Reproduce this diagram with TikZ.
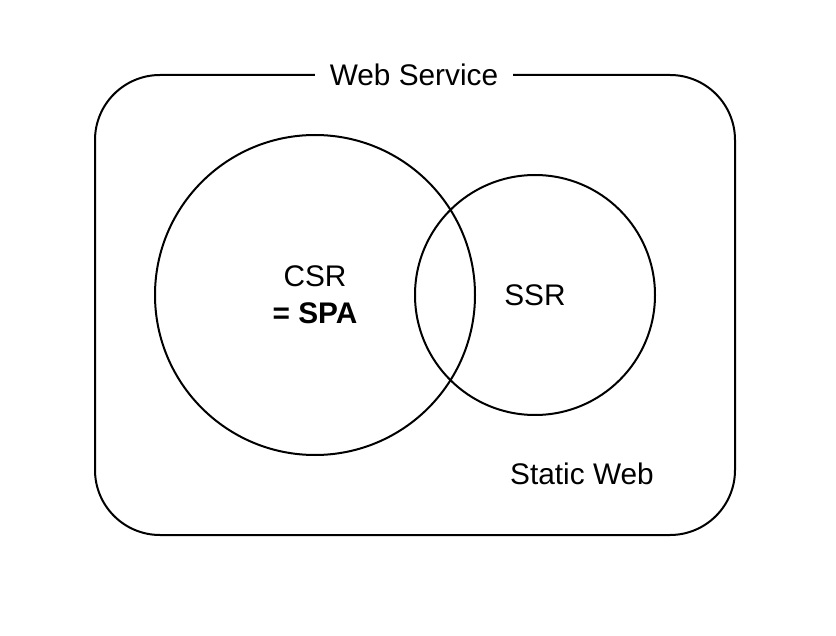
\documentclass[tikz,border=0pt]{standalone}
\usepackage{fontspec}
\setmainfont{Liberation Sans}
\begin{document}
\begin{tikzpicture}[x=0.5pt,y=-0.5pt,line width=1pt,
    font=\fontsize{14.9}{18.5}\selectfont]
    \useasboundingbox (0,0) rectangle (836,636);
    % outer box
    \draw[rounded corners=32.5pt] (95,75) rectangle (735,535);
    \node[fill=white,inner xsep=7.5pt] (service) at (414,75) {Web Service};
    % circles
    \node[circle,draw,minimum size=160pt,align=center] (csr) at (315,295)
        {CSR\\\textbf{= SPA}};
    \node[circle,draw,minimum size=120pt] (ssr) at (535,295) {SSR};
    \node (static) at (582,474) {Static Web};
\end{tikzpicture}
\end{document}
